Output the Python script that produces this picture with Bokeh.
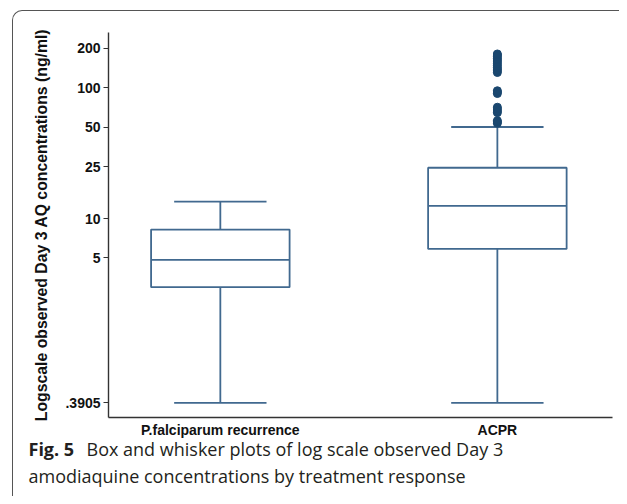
from bokeh.plotting import figure
from bokeh.models import Range1d, FixedTicker, Label, InlineStyleSheet
from bokeh.embed import file_html
from bokeh.resources import INLINE

# ---- data ----
categories = ["P.falciparum recurrence", "ACPR"]
lower_whisker = [0.3905, 0.3905]
q1 = [2.99, 5.87]
median = [4.84, 12.5]
q3 = [8.24, 24.5]
upper_whisker = [13.5, 50.2]
acpr_outliers = [53.6, 55.0, 56.1, 64.6, 66.5, 68.8, 71.1, 90.5, 93.0, 95.0,
                 131, 135, 139, 143, 148, 153, 158, 163, 168, 173, 178, 181.6]
y_ticks = [0.3905, 5, 10, 25, 50, 100, 200]
y_tick_labels = [".3905", "5", "10", "25", "50", "100", "200"]
y_title = "Logscale observed Day 3 AQ concentrations (ng/ml)"
caption_bold = "Fig. 5"
caption_line1 = "Box and whisker plots of log scale observed Day 3"
caption_line2 = "amodiaquine concentrations by treatment response"

# ---- styles ----
BOX_COLOR = "#41698f"
DOT_COLOR = "#1a476f"
AXIS_COLOR = "#333333"
box_half = 0.25
cap_half = 0.1667

xs = [i + 1 for i in range(len(categories))]

p = figure(width=619, height=496, output_backend="svg", toolbar_location=None,
           y_axis_type="log",
           x_range=Range1d(0.5963, 2.4156), y_range=Range1d(0.3015, 265),
           min_border_left=108, min_border_right=7,
           min_border_top=32, min_border_bottom=79)
p.outline_line_color = None
p.xgrid.visible = False
p.ygrid.visible = False
p.background_fill_color = "white"
p.border_fill_color = "white"

# rounded frame around chart and caption (decoration only)
p.stylesheets = [InlineStyleSheet(css="""
:host { position: relative; }
:host::after {
  content: ""; position: absolute; pointer-events: none;
  left: 12px; top: 10px; width: 607px; height: 486px; box-sizing: border-box;
  border-left: 1px solid #555; border-top: 1px solid #555;
  border-right: none; border-bottom: none; border-radius: 10px 0 0 0;
}
""")]

# boxes
p.quad(left=[x - box_half for x in xs], right=[x + box_half for x in xs],
       bottom=q1, top=q3, fill_color=None, line_color=BOX_COLOR, line_width=1.8)
# medians
p.segment(x0=[x - box_half for x in xs], x1=[x + box_half for x in xs],
          y0=median, y1=median, line_color=BOX_COLOR, line_width=1.8)
# whiskers
p.segment(x0=xs, x1=xs, y0=q3, y1=upper_whisker, line_color=BOX_COLOR, line_width=1.8)
p.segment(x0=xs, x1=xs, y0=q1, y1=lower_whisker, line_color=BOX_COLOR, line_width=1.8)
# caps
p.segment(x0=[x - cap_half for x in xs], x1=[x + cap_half for x in xs],
          y0=upper_whisker, y1=upper_whisker, line_color=BOX_COLOR, line_width=1.8)
p.segment(x0=[x - cap_half for x in xs], x1=[x + cap_half for x in xs],
          y0=lower_whisker, y1=lower_whisker, line_color=BOX_COLOR, line_width=1.8)
# outliers
p.scatter(x=[xs[1]] * len(acpr_outliers), y=acpr_outliers, size=8,
          fill_color=DOT_COLOR, line_color=DOT_COLOR)

# x axis
p.xaxis.ticker = FixedTicker(ticks=xs)
p.xaxis.major_label_overrides = {x: c for x, c in zip(xs, categories)}
p.xaxis.major_tick_line_color = None
p.xaxis.minor_tick_line_color = None
p.xaxis.major_tick_out = 0
p.xaxis.major_label_standoff = 4
p.xaxis.axis_line_color = AXIS_COLOR
p.xaxis.axis_line_width = 1.4
p.xaxis.major_label_text_font = "Liberation Sans"
p.xaxis.major_label_text_font_style = "bold"
p.xaxis.major_label_text_font_size = "14px"
p.xaxis.major_label_text_color = "#111111"

# y axis
p.yaxis.ticker = FixedTicker(ticks=y_ticks, minor_ticks=[])
p.yaxis.major_label_overrides = {t: l for t, l in zip(y_ticks, y_tick_labels)}
p.yaxis.minor_tick_line_color = None
p.yaxis.major_tick_in = 0
p.yaxis.major_tick_out = 5
p.yaxis.major_tick_line_color = AXIS_COLOR
p.yaxis.major_tick_line_width = 1.2
p.yaxis.axis_line_color = AXIS_COLOR
p.yaxis.axis_line_width = 1.4
p.yaxis.major_label_standoff = 3
p.yaxis.major_label_text_font = "Liberation Sans"
p.yaxis.major_label_text_font_style = "bold"
p.yaxis.major_label_text_font_size = "14px"
p.yaxis.major_label_text_color = "#111111"
p.yaxis.axis_label = y_title
p.yaxis.axis_label_text_font = "Liberation Sans"
p.yaxis.axis_label_text_font_style = "bold"
p.yaxis.axis_label_text_font_size = "15.8px"
p.yaxis.axis_label_text_color = "#111111"
p.yaxis.axis_label_standoff = 12

# caption: labels held in side panels (so they are not clipped), placed in canvas px
CAP_SIZE = "18px"
p.add_layout(Label(x=28, y=448, x_units="canvas", y_units="canvas",
                   text=caption_bold, text_font="Open Sans", text_font_style="bold",
                   text_font_size=CAP_SIZE, text_color="#231f20",
                   text_baseline="alphabetic"), "above")
p.add_layout(Label(x=86, y=448, x_units="canvas", y_units="canvas",
                   text=caption_line1, text_font="Open Sans",
                   text_font_size=CAP_SIZE, text_color="#231f20",
                   text_baseline="alphabetic"), "below")
p.add_layout(Label(x=28, y=475, x_units="canvas", y_units="canvas",
                   text=caption_line2, text_font="Open Sans",
                   text_font_size=CAP_SIZE, text_color="#231f20",
                   text_baseline="alphabetic"), "below")

open("out.html", "w").write(file_html(p, INLINE))
